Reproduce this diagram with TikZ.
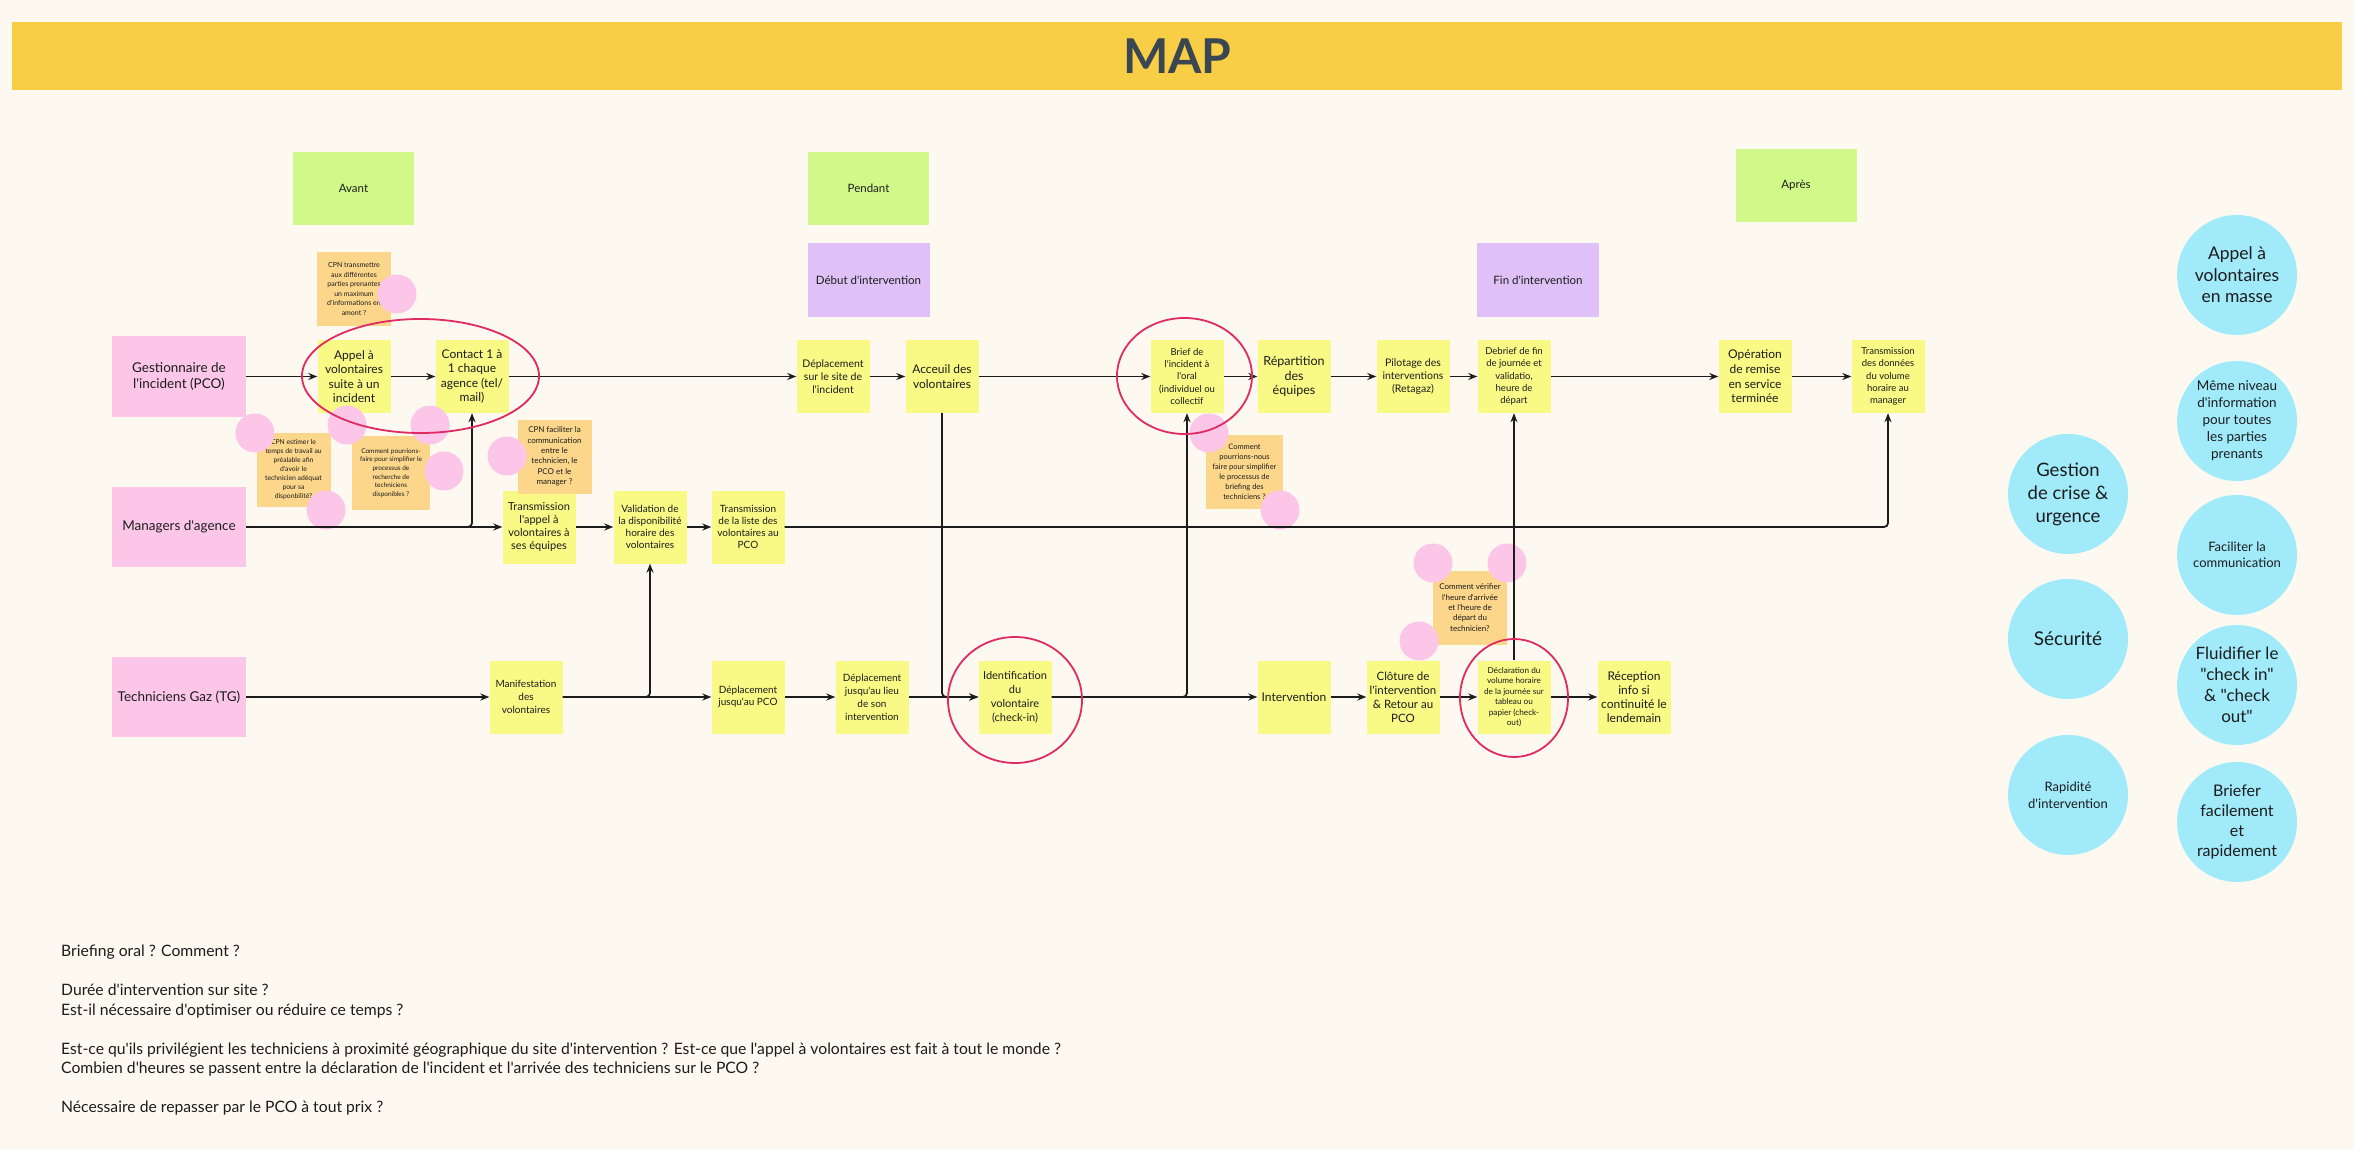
\documentclass[tikz,border=0pt]{standalone}
\usepackage{fontspec}
\setmainfont{Lato}[Ligatures=TeXOff]
\usepackage{tikz}
\usetikzlibrary{positioning,arrows.meta,shapes.geometric}
\definecolor{cream}{HTML}{FDF9F1}
\definecolor{band}{HTML}{F8CE46}
\definecolor{slate}{HTML}{3A4652}
\definecolor{leaf}{HTML}{D1F98A}
\definecolor{lilac}{HTML}{DFC1F8}
\definecolor{rose}{HTML}{FCC6E8}
\definecolor{lemon}{HTML}{F9F986}
\definecolor{apricot}{HTML}{FCD68A}
\definecolor{sky}{HTML}{A0EAFA}
\definecolor{crimson}{HTML}{DF2A62}
\definecolor{ink}{HTML}{1C1C1C}
\newcommand\fz[2]{\fontsize{#1}{#2}\selectfont}

\begin{document}
\begin{tikzpicture}[x=1pt,y=-1pt,
  every node/.style={text=ink,align=center,inner sep=0pt},
  sticky/.style={fill=lemon,minimum width=73,minimum height=73},
  note/.style={fill=apricot,minimum width=74,minimum height=74},
  actor/.style={fill=rose,minimum width=134,minimum height=80,font=\fz{13.5}{16}},
  phase/.style={fill=leaf,minimum width=121,minimum height=73,font=\fz{11.5}{14}},
  moment/.style={fill=lilac,minimum width=122,minimum height=74,font=\fz{11.5}{14}},
  dot/.style={circle,fill=rose,minimum size=39},
  goal/.style={circle,fill=sky,minimum size=120},
  ring/.style={ellipse,draw=crimson,line width=1.8pt},
  conn/.style={-{Stealth[length=9pt,width=7pt]},line width=1.8pt,ink,rounded corners=4pt}
]
\fill[cream] (0,0) rectangle (2354,1150);
\useasboundingbox (0,0) rectangle (2354,1150);

% title
\node[fill=band,minimum width=2330,minimum height=68,anchor=north west] (banner) at (12,22) {};
\node[font=\fz{48}{50}\bfseries,text=slate] (title) at (banner) {MAP};

% phases
\node[phase] (avant) at (353.5,188.5) {Avant};
\node[phase] (pendant) at (868.5,188.5) {Pendant};
\node[phase] (apres) at (1796,185.5) {Après};
\node[moment] (debut) at (868.5,280) {Début d'intervention};
\node[moment] (fin) at (1538,280) {Fin d'intervention};

% actors
\node[actor] (gest) at (179,376.5) {Gestionnaire de\\l'incident (PCO)};
\node[actor] (mgr) at (179,527) {Managers d'agence};
\node[actor] (tech) at (179,697) {Techniciens Gaz (TG)};

% row 1
\node[sticky,font=\fz{12}{14.5}] (appel) at (354,376.5) {Appel à\\volontaires\\suite à un\\incident};
\node[sticky,font=\fz{12}{14.5}] (contact) at (472,376.5) {Contact 1 à\\1 chaque\\agence (tel/\\mail)};
\node[sticky,font=\fz{10.5}{13}] (depsite) at (833,376.5) {Déplacement\\sur le site de\\l'incident};
\node[sticky,font=\fz{12}{14.5}] (accueil) at (942,376.5) {Acceuil des\\volontaires};
\node[sticky,font=\fz{9.5}{12.2}] (brief) at (1187,376.5) {Brief de\\l'incident à\\l'oral\\(individuel ou\\collectif};
\node[sticky,font=\fz{12.5}{14.5}] (repart) at (1294,376.5) {Répartition\\des\\équipes};
\node[sticky,font=\fz{10.5}{13}] (pilot) at (1413,376.5) {Pilotage des\\interventions\\(Retagaz)};
\node[sticky,font=\fz{9.5}{12.3}] (debrief) at (1514,376.5) {Debrief de fin\\de journée et\\validatio,\\heure de\\départ};
\node[sticky,font=\fz{12}{14.7}] (operation) at (1755,376.5) {Opération\\de remise\\en service\\terminée};
\node[sticky,font=\fz{9.5}{12.3}] (donnees) at (1888,376.5) {Transmission\\des données\\du volume\\horaire au\\manager};

% row 2
\node[sticky,font=\fz{11}{13}] (transapp) at (539,527) {Transmission\\l'appel à\\volontaires à\\ses équipes};
\node[sticky,font=\fz{10}{12}] (valid) at (650,527) {Validation de\\la disponibilité\\horaire des\\volontaires};
\node[sticky,font=\fz{10}{12}] (liste) at (748,527) {Transmission\\de la liste des\\volontaires au\\PCO};

% row 3
\node[sticky,font=\fz{10}{13}] (manif) at (526,697) {Manifestation\\des\\volontaires};
\node[sticky,font=\fz{10}{12.3}] (dpco) at (748,697) {Déplacement\\jusqu'au PCO};
\node[sticky,font=\fz{10}{13}] (dlieu) at (872,697) {Déplacement\\jusqu'au lieu\\de son\\intervention};
\node[sticky,font=\fz{11}{14}] (ident) at (1015,697) {Identification\\du\\volontaire\\(check-in)};
\node[sticky,font=\fz{12}{14}] (interv) at (1294,697) {Intervention};
\node[sticky,font=\fz{11.5}{14}] (cloture) at (1403,697) {Clôture de\\l'intervention\\\& Retour au\\PCO};
\node[sticky,font=\fz{8.2}{10.4}] (declar) at (1514,697) {Déclaration du\\volume horaire\\de la journée sur\\tableau ou\\papier (check-\\out)};
\node[sticky,font=\fz{12}{14}] (recep) at (1634,697) {Réception\\info si\\continuité le\\lendemain};

% questions
\node[note,font=\fz{7}{9.5}] (ntrans) at (354,289) {CPN transmettre\\aux différentes\\parties prenantes\\un maximum\\d'informations en\\amont ?};
\node[note,font=\fz{6.8}{9}] (nestim) at (293.5,470) {CPN estimer le\\temps de travail au\\préalable afin\\d'avoir le\\technicien adéquat\\pour sa\\disponbilité?};
\node[note,minimum width=78,font=\fz{6.5}{8.6}] (nrech) at (391,473) {Comment pourrions-\\faire pour simplifier le\\processus de\\recherche de\\techniciens\\disponibles ?};
\node[note,font=\fz{8}{10.4}] (nfacil) at (554.5,456.5) {CPN faciliter la\\communication\\entre le\\technicien, le\\PCO et le\\manager ?};
\node[note,minimum width=77,font=\fz{7.5}{10}] (nbrief) at (1244.5,471.5) {Comment\\pourrions-nous\\faire pour simplifier\\le processus de\\briefing des\\techniciens ?};
\node[note,font=\fz{8}{10.4}] (nverif) at (1470,607.5) {Comment vérifier\\l'heure d'arrivée\\et l'heure de\\départ du\\technicien?};

% votes
\node[dot] (d1) at (397,294) {};
\node[dot] (d2) at (255,433) {};
\node[dot] (d3) at (326,510) {};
\node[dot] (d4) at (347,425) {};
\node[dot] (d5) at (430,425) {};
\node[dot] (d6) at (444,471) {};
\node[dot] (d7) at (507,456) {};
\node[dot] (d8) at (1209,433) {};
\node[dot] (d9) at (1280,510) {};
\node[dot] (d10) at (1433,563) {};
\node[dot] (d11) at (1507,563) {};
\node[dot] (d12) at (1419,641) {};

% flow
\draw[conn] (gest) -- (appel);
\draw[conn] (appel) -- (contact);
\draw[conn] (contact) -- (depsite);
\draw[conn] (depsite) -- (accueil);
\draw[conn] (accueil) -- (brief);
\draw[conn] (brief) -- (repart);
\draw[conn] (repart) -- (pilot);
\draw[conn] (pilot) -- (debrief);
\draw[conn] (debrief) -- (operation);
\draw[conn] (operation) -- (donnees);
\draw[conn] (mgr) -- (transapp);
\draw[conn] (mgr.east) -| (contact.south);
\draw[conn] (transapp) -- (valid);
\draw[conn] (valid) -- (liste);
\draw[conn] (liste.east) -| (donnees.south);
\draw[conn] (tech) -- (manif);
\draw[conn] (manif) -- (dpco);
\draw[conn] (manif.east) -| (valid.south);
\draw[conn] (dpco) -- (dlieu);
\draw[conn] (dlieu) -- (ident);
\draw[conn] (accueil.south) |- (ident.west);
\draw[conn] (ident) -- (interv);
\draw[conn] (ident.east) -| (brief.south);
\draw[conn] (interv) -- (cloture);
\draw[conn] (cloture) -- (declar);
\draw[conn] (declar) -- (recep);
\draw[conn] (declar.north) -- (debrief.south);

% pain points
\node[ring,minimum width=237,minimum height=114] (ringA) at (420.5,376) {};
\node[ring,minimum width=135,minimum height=116] (ringB) at (1184.5,376) {};
\node[ring,minimum width=134,minimum height=126] (ringC) at (1015,700) {};
\node[ring,minimum width=108,minimum height=118] (ringD) at (1514,698) {};

% goals
\node[goal,font=\fz{17.5}{21.5}] (g1) at (2237,275) {Appel à\\volontaires\\en masse};
\node[goal,font=\fz{13.5}{17}] (g2) at (2237,421) {Même niveau\\d'information\\pour toutes\\les parties\\prenants};
\node[goal,font=\fz{18.5}{23}] (g3) at (2068,494) {Gestion\\de crise \&\\urgence};
\node[goal,font=\fz{13}{16}] (g4) at (2237,555) {Faciliter la\\communication};
\node[goal,font=\fz{19}{23}] (g5) at (2068,639) {Sécurité};
\node[goal,font=\fz{17}{21}] (g6) at (2237,685) {Fluidifier le\\"check in"\\\& "check\\out"};
\node[goal,font=\fz{13}{17}] (g7) at (2068,795) {Rapidité\\d'intervention};
\node[goal,font=\fz{16}{20}] (g8) at (2237,822) {Briefer\\facilement\\et\\rapidement};

% open questions
\node[anchor=north west,align=left,font=\fz{15.7}{19.5}] (questions) at (61,945) {Briefing oral ? Comment ?\\[19.5pt]
Durée d'intervention sur site ?\\
Est-il nécessaire d'optimiser ou réduire ce temps ?\\[19.5pt]
Est-ce qu'ils privilégient les techniciens à proximité géographique du site d'intervention ? Est-ce que l'appel à volontaires est fait à tout le monde ?\\
Combien d'heures se passent entre la déclaration de l'incident et l'arrivée des techniciens sur le PCO ?\\[19.5pt]
Nécessaire de repasser par le PCO à tout prix ?};
\end{tikzpicture}
\end{document}
